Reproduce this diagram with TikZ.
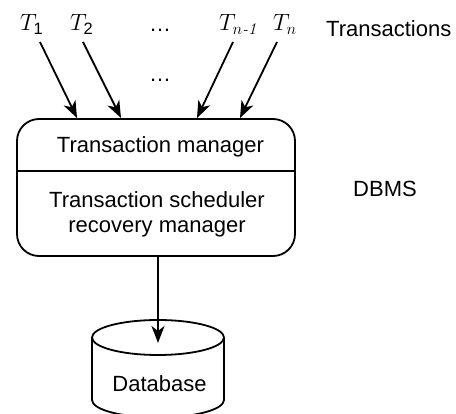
\documentclass[tikz,border=0pt]{standalone}
\usepackage{fix-cm}
\usepackage{amsmath}
\usepackage{fontspec}
\setmainfont{Liberation Sans}
\newfontfamily\lmserif{Latin Modern Roman}
\usetikzlibrary{arrows.meta}
\begin{document}
\begin{tikzpicture}[x=1pt,y=-1pt,
  lbl/.style={inner sep=0pt, font=\fontsize{22}{25}\selectfont},
  mlbl/.style={inner sep=0pt, font=\fontsize{23.5}{28}\selectfont},
  line/.style={line width=1.8pt},
  arr/.style={line, -{Stealth[length=17pt,width=13pt,inset=5pt]}},
  boxstyle/.style={draw, line width=1.8pt, rounded corners=22pt, inner sep=0pt,
    minimum width=278pt, minimum height=137pt}]
\useasboundingbox (0,0) rectangle (456,414);
\clip (0,0) rectangle (456,414);
% top labels
\node[mlbl, anchor=base west] (t1) at (20,31) {$T_{\text{1}}$};
\node[mlbl, anchor=base west] (t2) at (70,31) {$T_{\text{2}}$};
\node[lbl, anchor=base] (dots1) at (160,32) {\ldots};
\node[mlbl, anchor=base west] (tn1) at (219,31) {$T_{n\text{\lmserif\itshape -1}}$};
\node[mlbl, anchor=base west] (tn) at (273,31) {$T_n$};
\node[lbl, anchor=base west] (trans) at (326,37) {Transactions};
\node[lbl, anchor=base] (dots2) at (160,82) {\ldots};
% DBMS box
\node[boxstyle] (box) at (156,187.5) {};
\coordinate (divl) at (17,171);
\coordinate (divr) at (295,171);
\draw[line] (divl) -- (divr);
\node[lbl, anchor=base] (tm) at (160.5,153) {Transaction manager};
\node[lbl, anchor=base] (ts) at (157,208) {Transaction scheduler};
\node[lbl, anchor=base] (rm) at (157,233) {recovery manager};
\node[lbl, anchor=base] (dbms) at (385,197) {DBMS};
% arrows into box
\coordinate (s1) at (40,42);  \coordinate (e1) at (77,118);
\coordinate (s2) at (83,42);  \coordinate (e2) at (121,118);
\coordinate (s3) at (233,42); \coordinate (e3) at (197,118);
\coordinate (s4) at (277,42); \coordinate (e4) at (240,118);
\draw[arr] (s1) -- (e1);
\draw[arr] (s2) -- (e2);
\draw[arr] (s3) -- (e3);
\draw[arr] (s4) -- (e4);
% database cylinder
\draw[line] (158,337.5) ellipse [x radius=66pt, y radius=17.5pt];
\draw[line] (92,337.5) -- (92,400) arc[start angle=180, end angle=360, x radius=66pt, y radius=17.5pt] -- (224,337.5);
\node[lbl, anchor=base] (db) at (159.5,392) {Database};
% arrow to database
\coordinate (bout) at (158,257);
\coordinate (dbin) at (158,343);
\draw[arr] (bout) -- (dbin);
\end{tikzpicture}
\end{document}
